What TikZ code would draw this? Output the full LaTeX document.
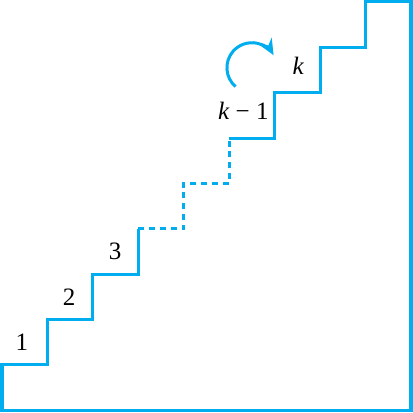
\documentclass[tikz,border=0pt]{standalone}
\usepackage{fontspec}
\setmainfont{Liberation Serif}
\usepackage{tikz}
\usetikzlibrary{arrows.meta}
\definecolor{stairblue}{RGB}{0,174,239}

\begin{document}
\begin{tikzpicture}[x=22.7pt, y=22.65pt, font=\fontsize{12.5}{14}\selectfont,
    stair/.style={stairblue, line width=1.5pt},
    gap/.style={dash pattern=on 3pt off 2.4pt},
    turnarrow/.style={stairblue, line width=1.5pt, -{Stealth[length=8pt, width=7pt]}}]
    \useasboundingbox (-0.044,-0.044) rectangle (9.044,9.044);

    % Stairs, solid parts
    \draw[stair] (3,4) -- (3,3) -- (2,3) -- (2,2) -- (1,2) -- (1,1) -- (0,1) -- (0,0)
        -- (9,0) -- (9,9) -- (8,9) -- (8,8) -- (7,8) -- (7,7) -- (6,7) -- (6,6) -- (5,6);

    % Stairs, dashed middle
    \draw[stair, gap] (3,4) -- (4,4) -- (4,5) -- (5,5) -- (5,6);

    % Step numbers
    \node (one) at (0.44,1.5) {1};
    \node (two) at (1.48,2.49) {2};
    \node (three) at (2.49,3.49) {3};
    \node (kminus) at (5.31,6.6) {\textit{k} − 1};
    \node (k) at (6.52,7.59) {\textit{k}};

    % Turn arrow
    \coordinate (turn) at (5.5,7.55);
    \draw[turnarrow] ([shift={(229:12.5pt)}]turn) arc[start angle=229, end angle=30, radius=12.5pt];

\end{tikzpicture}
\end{document}
